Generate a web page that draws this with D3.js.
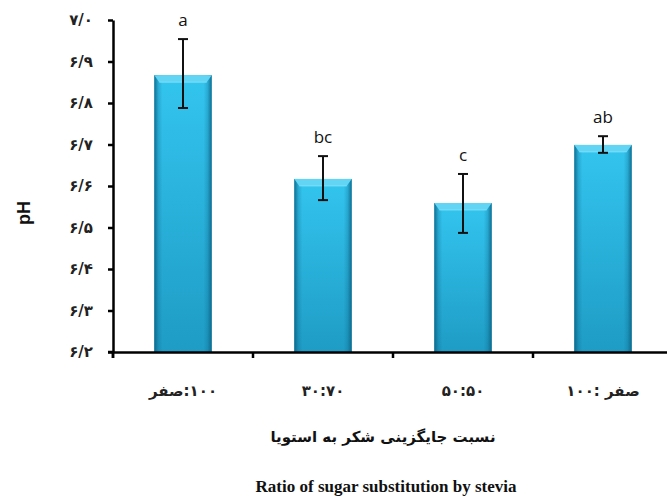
<!DOCTYPE html>
<html><head><meta charset="utf-8">
<script src="https://cdn.jsdelivr.net/npm/d3@7"></script>
<style>html,body{margin:0;padding:0;background:#fff;}svg{display:block;}</style>
</head><body>
<svg id="chart" width="667" height="498"></svg>
<script>
// ---- data ----
const categories = ["\u200Eصفر\u200E:۱۰۰", "\u200E۳۰:۷۰", "\u200E۵۰:۵۰", "\u200E۱۰۰: صفر"];
const phMeans   = [6.867, 6.617, 6.559, 6.699];
const errUpper  = [6.954, 6.672, 6.629, 6.720];
const errLower  = [6.788, 6.566, 6.487, 6.680];
const letters   = ["a", "bc", "c", "ab"];
const yTickValues = [6.2, 6.3, 6.4, 6.5, 6.6, 6.7, 6.8, 6.9, 7.0];
const yTickLabels = ["۶/۲", "۶/۳", "۶/۴", "۶/۵", "۶/۶", "۶/۷", "۶/۸", "۶/۹", "۷/۰"];
const yAxisTitle = "pH";
const xAxisTitleFa = "نسبت جایگزینی شکر به استویا";
const xAxisTitleEn = "Ratio of sugar substitution by stevia";

const svg = d3.select("#chart");
const mLeft = 113, mRight = 673, mTop = 20, mBottom = 352;

const x = d3.scaleBand().domain(categories).range([mLeft, mRight]).paddingInner(0.59).paddingOuter(0.295);
const y = d3.scaleLinear().domain([6.2, 7.0]).range([mBottom, mTop]);

// gradients
const defs = svg.append("defs");
const vg = defs.append("linearGradient").attr("id", "vgrad").attr("x1", 0).attr("y1", 0).attr("x2", 0).attr("y2", 1);
vg.append("stop").attr("offset", "0%").attr("stop-color", "#33c5ef");
vg.append("stop").attr("offset", "100%").attr("stop-color", "#1e9cc5");
const hg = defs.append("linearGradient").attr("id", "hgrad").attr("x1", 0).attr("y1", 0).attr("x2", 1).attr("y2", 0);
[["0%", "#0b5f82", 0.85], ["7%", "#0b5f82", 0.25], ["14%", "#0b5f82", 0], ["86%", "#0b5f82", 0], ["93%", "#0b5f82", 0.25], ["100%", "#0b5f82", 0.85]]
  .forEach(s => hg.append("stop").attr("offset", s[0]).attr("stop-color", s[1]).attr("stop-opacity", s[2]));

const data = categories.map((c, i) => ({c, v: phMeans[i], hi: errUpper[i], lo: errLower[i], l: letters[i]}));

// bars
const g = svg.append("g");
const bw = x.bandwidth();
data.forEach(d => {
  const x0 = x(d.c), y0 = y(d.v), h = y(6.2) - y0;
  g.append("rect").attr("x", x0).attr("y", y0).attr("width", bw).attr("height", h).attr("fill", "url(#vgrad)");
  g.append("rect").attr("x", x0).attr("y", y0).attr("width", bw).attr("height", h).attr("fill", "url(#hgrad)");
  g.append("polygon")
    .attr("points", [[x0, y0], [x0 + bw, y0], [x0 + bw - 5, y0 + 7], [x0 + 5, y0 + 7]].map(p => p.join(",")).join(" "))
    .attr("fill", "#62d5f5");
  g.append("line").attr("x1", x0 + 5).attr("x2", x0 + bw - 5).attr("y1", y0 + 7).attr("y2", y0 + 7)
    .attr("stroke", "#8ee4fa").attr("stroke-width", 1).attr("opacity", 0.7);
});

// error bars
const cap = 5;
data.forEach(d => {
  const cx = x(d.c) + bw / 2;
  g.append("line").attr("x1", cx).attr("x2", cx).attr("y1", y(d.hi)).attr("y2", y(d.lo)).attr("stroke", "#111").attr("stroke-width", 2);
  [d.hi, d.lo].forEach(v => g.append("line").attr("x1", cx - cap).attr("x2", cx + cap).attr("y1", y(v)).attr("y2", y(v)).attr("stroke", "#111").attr("stroke-width", 2));
  g.append("text").attr("x", cx).attr("y", y(d.hi) - 13).attr("text-anchor", "middle")
    .attr("font-family", "'Open Sans', sans-serif").attr("font-size", 17).attr("fill", "#111").text(d.l);
});

// y axis
const yAxis = d3.axisLeft(y).tickValues(yTickValues).tickFormat((d, i) => yTickLabels[i]).tickSize(5).tickSizeOuter(0);
const ya = svg.append("g").attr("transform", `translate(${mLeft},0)`).call(yAxis);
ya.select(".domain").attr("stroke", "#000").attr("stroke-width", 2.5);
ya.selectAll(".tick line").attr("stroke", "#000").attr("stroke-width", 2.5);
ya.selectAll(".tick text").attr("x", -20).attr("font-family", "'DejaVu Sans', sans-serif").attr("font-weight", "bold")
  .attr("font-size", 15).attr("fill", "#222");
ya.append("line").attr("x1", 0).attr("x2", 0).attr("y1", mBottom).attr("y2", mBottom + 6)
  .attr("stroke", "#000").attr("stroke-width", 2.5);

// x axis
const xAxis = d3.axisBottom(x).tickSize(0).tickSizeOuter(0);
const xa = svg.append("g").attr("transform", `translate(0,${mBottom})`).call(xAxis);
xa.select(".domain").attr("stroke", "#000").attr("stroke-width", 2.5);
xa.selectAll(".tick text").attr("y", 33).attr("font-family", "'DejaVu Sans', sans-serif").attr("font-weight", "bold")
  .attr("font-size", 15).attr("fill", "#222");
xa.append("line").attr("x1", mLeft - 5).attr("x2", mLeft).attr("y1", 0).attr("y2", 0)
  .attr("stroke", "#000").attr("stroke-width", 2.5);
const bounds = categories.map(c => x(c) - x.step() * x.paddingOuter());
xa.selectAll(".btick").data(bounds).enter().append("line")
  .attr("x1", d => d).attr("x2", d => d).attr("y1", 0).attr("y2", 6)
  .attr("stroke", "#000").attr("stroke-width", 2.5);

// titles
svg.append("text").attr("transform", "translate(30,213) rotate(-90)").attr("text-anchor", "middle")
  .attr("font-family", "'Liberation Sans', Arial, sans-serif").attr("font-weight", "bold").attr("font-size", 18)
  .attr("fill", "#111").text(yAxisTitle);
svg.append("text").attr("x", 383).attr("y", 442).attr("text-anchor", "middle")
  .attr("font-family", "'DejaVu Sans', sans-serif").attr("font-weight", "bold").attr("font-size", 15)
  .attr("fill", "#111").text(xAxisTitleFa);
svg.append("text").attr("x", 386).attr("y", 492).attr("text-anchor", "middle")
  .attr("font-family", "'Liberation Serif', 'Times New Roman', serif").attr("font-weight", "bold").attr("font-size", 17)
  .attr("fill", "#111").text(xAxisTitleEn);
</script>
</body></html>
